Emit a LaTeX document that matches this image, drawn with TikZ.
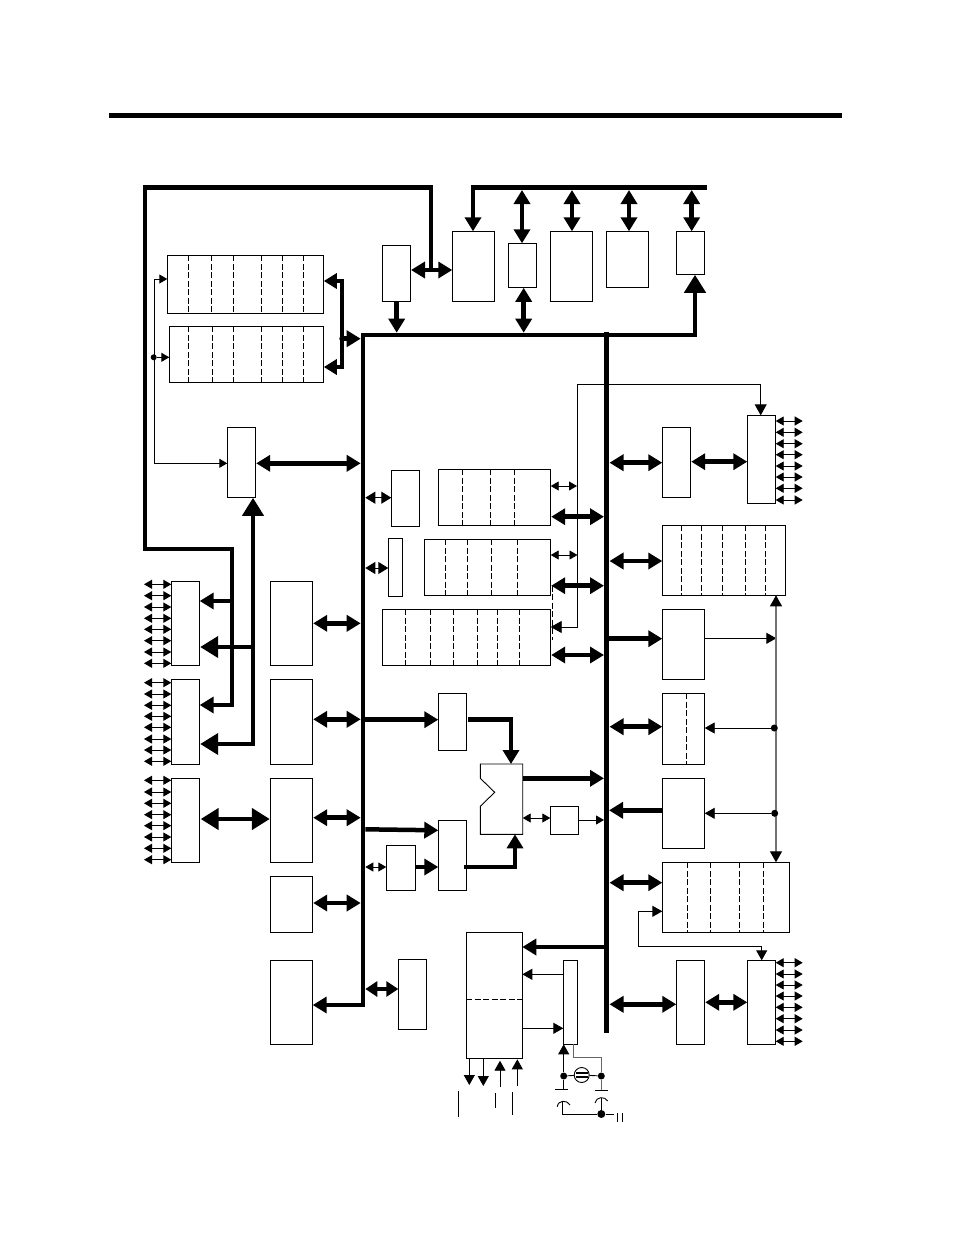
\documentclass[tikz,border=0pt]{standalone}
\usetikzlibrary{arrows.meta}
\tikzset{
  bx/.style={draw=black,line width=0.9pt,inner sep=0pt,outer sep=0pt,rectangle},
  hid/.style={inner sep=0pt,outer sep=0pt,rectangle},
  busbar/.style={fill=black,draw=none,inner sep=0pt,outer sep=0pt,rectangle},
  dsh/.style={line width=0.8pt,dash pattern=on 6pt off 2.5pt},
  bb/.style={line width=4.5pt,{Triangle[length=14pt,width=16pt]}-{Triangle[length=14pt,width=16pt]},shorten <=0.5pt},
  bt/.style={line width=4.5pt,-{Triangle[length=14pt,width=16pt]}},
  bbb/.style={line width=4.5pt,{Triangle[length=18pt,width=21pt]}-{Triangle[length=18pt,width=21pt]},shorten <=1pt,shorten >=0.5pt},
  tbig/.style={line width=4.5pt,-{Triangle[length=18pt,width=21pt]},shorten >=0.5pt},
  mb/.style={line width=1pt,{Triangle[length=10pt,width=12pt]}-{Triangle[length=10pt,width=12pt]}},
  sm/.style={line width=0.9pt,{Triangle[length=8pt,width=9pt]}-{Triangle[length=8pt,width=9pt]}},
  tn/.style={line width=0.9pt,-{Triangle[length=10pt,width=11pt]}},
  ts/.style={line width=0.9pt,-{Triangle[length=8pt,width=9pt]}},
  thinl/.style={line width=0.9pt},
  dot/.style={circle,fill=black,inner sep=0pt,minimum size=7pt},
}
\newcommand\bx[5]{\node[bx,minimum width={(#4-#2)*1pt},minimum height={(#5-#3)*1pt}] (#1) at ({(#2+#4)/2},{(#3+#5)/2}) {};}
\newcommand\hd[5]{\node[hid,minimum width={(#4-#2)*1pt},minimum height={(#5-#3)*1pt}] (#1) at ({(#2+#4)/2},{(#3+#5)/2}) {};}
\newcommand\bus[5]{\node[busbar,minimum width={(#4-#2)*1pt},minimum height={(#5-#3)*1pt}] (#1) at ({(#2+#4)/2},{(#3+#5)/2}) {};}
% horizontal connector: style, from, to, y
\newcommand\hl[4]{\draw[#1] (#2 |- 0,#4) -- (#3 |- 0,#4);}
% vertical connector: style, from, to, x
\newcommand\vl[4]{\draw[#1] (#4,0 |- #2) -- (#4,0 |- #3);}
% dashed partitions: node, list of x
\newcommand\vdsh[2]{\foreach \xx in {#2} {\draw[dsh] (\xx,0 |- #1.north) -- (\xx,0 |- #1.south);}}
\newcommand\pinsL[2]{\foreach \yy in {#2} {\draw[sm] (#1.west |- 0,\yy) -- ++(-27.3,0);}}
\newcommand\pinsR[2]{\foreach \yy in {#2} {\draw[sm] (#1.east |- 0,\yy) -- ++(27,0);}}
\begin{document}
\begin{tikzpicture}[x=1pt,y=-1pt]
\useasboundingbox (0,0) rectangle (954,1235);
% rule
\bus{rule}{109}{113}{842}{118}
% buses
\bus{busT}{471}{185}{707}{189.5}
\bus{busL}{360.7}{333}{365.3}{1007}
\bus{busA}{361}{332.7}{697}{337.3}
\bus{busR}{604}{332}{609}{1032.7}
% upper row
\bx{C}{382.3}{245.3}{410.5}{301.3}
\bx{E}{452.3}{231.3}{494.7}{301.3}
\bx{F}{508.3}{243.3}{536.7}{287.3}
\bx{G}{550.3}{231.3}{592.3}{301.3}
\bx{H}{606.3}{231.3}{648.3}{287.3}
\bx{I}{676.3}{231.3}{704.7}{274.3}
% memories
\bx{memA}{167.3}{255.3}{323.3}{313.3}
\vdsh{memA}{188.3,211.3,233.3,261.3,282.7,303.3}
\bx{memB}{169.3}{326.3}{323.3}{382.3}
\vdsh{memB}{188.3,212.3,233.3,261.3,282.7,303.3}
\bx{D}{227.3}{427.3}{255.7}{497.3}
% left ports
\bx{Pa}{171.3}{581.3}{199.7}{665.3}
\bx{Pb}{171.3}{679.3}{199.7}{764.3}
\bx{Pc}{171.3}{778.3}{199.7}{862.3}
\bx{Qa}{270.3}{581.3}{312.7}{665.3}
\bx{Qb}{270.3}{679.3}{312.7}{764.3}
\bx{Qc}{270.3}{778.3}{312.7}{862.3}
\bx{Qd}{270.3}{876.3}{312.7}{932.3}
\bx{Qe}{270.3}{960.3}{312.7}{1044.3}
\bx{Z}{398.3}{959.3}{426.3}{1029.3}
\pinsL{Pa}{584.3,595.7,607,618.3,629.3,640.7,652,663.3}
\pinsL{Pb}{682.7,694,705.3,716.3,727.3,739,750,761.3}
\pinsL{Pc}{780.3,792,803.3,814.7,825.7,837,848.3,859.7}
% centre
\bx{N}{391.3}{470.3}{419.7}{526.3}
\bx{Ra}{438.3}{469.3}{550.7}{525.3}
\vdsh{Ra}{462.3,490.3,514.3}
\bx{O}{388.3}{538.3}{402.7}{596.3}
\bx{Rb}{424.3}{539.3}{550.7}{595.3}
\vdsh{Rb}{445.3,467.3,491.3,517.3}
\bx{Rc}{382.3}{609.3}{550.7}{665.3}
\vdsh{Rc}{405.3,430.3,453.3,477.3,497.3,519.3}
\bx{J}{438.3}{693.3}{466.7}{750.7}
\bx{K}{438.3}{820.3}{466.7}{890.3}
\bx{L}{386.3}{845.3}{415.7}{890.3}
\hd{alu}{480.3}{764}{522.7}{834.3}
\draw[line width=0.9pt] (alu.north west) -- (alu.north east) -- (alu.south east) -- (alu.south west) -- (480.3,806.3) -- (494.7,792.3) -- (480.3,778.3) -- cycle;
\bx{M}{550.3}{806.3}{578.7}{834.3}
\bx{X}{466.3}{932.3}{522.3}{1058.3}
\draw[dsh] (X.west |- 0,999.3) -- (X.east |- 0,999.3);
\bx{Clk}{563.3}{960.3}{577.3}{1044.3}
% right
\bx{Qr}{662.3}{427.3}{690.7}{497.3}
\bx{Pr}{747.3}{415.3}{775.7}{503.3}
\pinsR{Pr}{421,432.3,443.7,454.7,466,477,488.3,500}
\bx{Rd}{662.3}{525.3}{785.7}{595.3}
\vdsh{Rd}{681.3,701.7,722.3,745.3,765.3}
\bx{S}{662.3}{609.3}{704.3}{679.3}
\bx{T}{662.3}{693.3}{704.7}{764.3}
\vdsh{T}{686.3}
\bx{U}{662.3}{778.3}{704.7}{848.3}
\bx{Re}{662.3}{862.3}{789.7}{932.3}
\vdsh{Re}{687.3,710.3,739.3,763.3}
\bx{W}{676.3}{960.3}{704.7}{1044.3}
\bx{Ps}{747.3}{960.3}{775.7}{1044.3}
\pinsR{Ps}{962.7,974,985,996,1007.3,1018.7,1030,1041.3}
% upper connectors
\vl{bt}{busT.south}{E.north}{473}
\vl{bb}{busT.south}{F.north}{522}
\vl{bb}{busT.south}{G.north}{572}
\vl{bb}{busT.south}{H.north}{629}
\vl{bb}{busT.south}{I.north}{691.7}
\vl{bb}{F.south}{busA.north}{523.7}
\vl{bt}{C.south}{busA.north}{396.7}
\hl{bb}{C.east}{E.west}{270}
\coordinate (ce) at (431,270);
\draw[bt,line join=miter] (ce) -- (431,187.5) -- (145,187.5) -- (145,549) -- (232,549) -- (232,705) -- (Pb.east |- 0,705);
\draw[tbig] (695,0 |- busA.east) -- (695,0 |- I.south);
% memory connectors
\coordinate (mj) at (342.3,338.7);
\draw[line width=4.2pt,line join=miter,-{Triangle[length=13pt,width=15pt]},shorten >=0.5pt] (342.3,281) -- (memA.east |- 0,281);
\draw[line width=4.2pt,line join=miter,-{Triangle[length=13pt,width=15pt]},shorten >=0.5pt] (342.3,367) -- (memB.east |- 0,367);
\draw[line width=4.2pt] (342.3,279) -- (342.3,369);
\draw[bt] (mj) -- (busL.west |- mj);
\node[dot,minimum size=6pt] (mjd) at (mj) {};
\hl{bb}{D.east}{busL.west}{463.3}
\draw[ts] (154.3,463.3) -- (D.west |- 0,463.3);
\draw[thinl] (154.3,463.3) -- (154.3,279);
\draw[ts] (154.3,279) -- (memA.west |- 0,279);
\node[dot,minimum size=6pt] (thd) at (153.7,357.3) {};
\draw[ts] (thd) -- (memB.west |- thd);
% left connectors
\draw[bt,line width=4pt] (232,601) -- (Pa.east |- 0,601);
\draw[tbig,line width=4pt] (253,647) -- (Pa.east |- 0,647);
\draw[tbig,line width=4pt,line join=miter] (253,746) -- (253,0 |- D.south);
\draw[tbig,line width=4pt] (253,744) -- (Pb.east |- 0,744);
\hl{bbb}{Pc.east}{Qc.west}{819}
\hl{bb}{Qa.east}{busL.west}{623.3}
\hl{bb}{Qb.east}{busL.west}{719.3}
\hl{bb}{Qc.east}{busL.west}{817.7}
\hl{bb}{Qd.east}{busL.west}{903}
\hl{bt}{busL.center}{Qe.east}{1005}
\draw[line width=4pt,{Triangle[length=12pt,width=15pt]}-{Triangle[length=12pt,width=15pt]}] (busL.east |- 0,989) -- (Z.west |- 0,989);
% centre connectors
\hl{mb}{busL.east}{N.west}{497.7}
\hl{mb}{busL.east}{O.west}{568}
\hl{sm}{Ra.east}{577,0}{486}
\hl{bb}{Ra.east}{busR.west}{516.7}
\hl{sm}{Rb.east}{577.5,0}{555}
\hl{bb}{Rb.east}{busR.west}{585.7}
\hl{bb}{Rc.east}{busR.west}{655}
\draw[dsh] (552.3,585.7) -- (552.3,640);
\draw[thinl,-{Triangle[length=11pt,width=12pt]}] (760.7,384) -- (760.7,0 |- Pr.north);
\draw[thinl,-{Triangle[length=11pt,width=12pt]}] (760.7,384) -- (577.3,384) -- (577.3,627) -- (Rc.east |- 0,627);
\hl{bt}{busL.east}{J.west}{719.7}
\draw[bt,line join=miter] (468,719.7) -- (511,719.7) -- (511,0 |- alu.north);
\hl{bt}{alu.east}{busR.west}{778.3}
\hl{sm}{alu.east}{M.west}{818}
\hl{ts}{M.east}{busR.west}{820}
\draw[bt] (busL.east |- 0,829.3) -- (K.west |- 0,830.3);
\hl{sm}{busL.east}{L.west}{867}
\hl{bt}{L.east}{K.west}{867}
\draw[bt,line width=4pt,line join=miter] (464,867) -- (515,867) -- (515,0 |- alu.south);
% right connectors
\hl{bb}{busR.east}{Qr.west}{462.7}
\hl{bb}{Qr.east}{Pr.west}{461.7}
\hl{bb}{busR.east}{Rd.west}{561}
\hl{bt}{busR.center}{S.west}{638.7}
\draw[tn] (S.east |- 0,638.3) -- (776.3,638.3);
\draw[line width=1.2pt,draw=black!55,{Triangle[length=11pt,width=12pt,color=black]}-{Triangle[length=11pt,width=12pt,color=black]}] (776,0 |- Rd.south) -- (776,0 |- Re.north);
\hl{bb}{busR.east}{T.west}{726.7}
\node[dot] (dta) at (774.3,728) {};
\draw[tn] (dta) -- (T.east |- dta);
\hl{bt}{U.west}{busR.east}{810.3}
\node[dot] (dtb) at (774.7,813.3) {};
\draw[tn] (dtb) -- (U.east |- dtb);
\hl{bb}{busR.east}{Re.west}{882.7}
\draw[thinl,-{Triangle[length=10pt,width=11pt]}] (761.7,946.3) -- (638.3,946.3) -- (638.3,911.3) -- (Re.west |- 0,911.3);
\draw[thinl,-{Triangle[length=10pt,width=11pt]}] (761.7,946.3) -- (761.7,0 |- Ps.north);
\hl{bb}{busR.east}{W.west}{1004.3}
\hl{bb}{W.east}{Ps.west}{1002.3}
% bottom block
\hl{bt}{busR.west}{X.east}{947}
\hl{tn}{Clk.west}{X.east}{974.3}
\hl{tn}{X.east}{Clk.west}{1028.3}
\draw[tn] (469.3,0 |- X.south) -- (469.3,1085);
\draw[tn] (483.3,0 |- X.south) -- (483.3,1086);
\draw[tn] (500,1086.7) -- (500,1060.7);
\draw[tn] (517.3,1085.7) -- (517.3,1059.3);
\coordinate (ba) at (458.3,1091); \coordinate (bb) at (458.3,1116.7);
\coordinate (bc) at (495.3,1093); \coordinate (bd) at (495.3,1107.7);
\coordinate (be) at (512.3,1092); \coordinate (bf) at (512.3,1114.7);
\draw[thinl] (ba) -- (bb);
\draw[thinl] (bc) -- (bd);
\draw[thinl] (be) -- (bf);
% oscillator
\node[dot] (oa) at (563.7,1076) {};
\node[dot] (ob) at (601.3,1076) {};
\node[circle,draw=black,line width=0.9pt,fill=white,inner sep=0pt,minimum size=15pt] (xt) at (581.7,1075) {};
\draw[line width=2pt] (576,1073) -- (587.5,1073) (576,1076.7) -- (587.5,1076.7);
\draw[thinl] (oa) -- (xt);
\draw[thinl] (xt) -- (ob);
\draw[tn] (oa) -- (oa |- Clk.south);
\draw[thinl,draw=black!60] (573.3,0 |- Clk.south) -- (573.3,1057.7) -| (ob);
\draw[thinl] (oa) -- (563.7,1089.3);
\draw[thinl] (555,1089.3) -- (567.7,1089.3);
\draw[thinl,draw=black!60] (ob) -- (601.3,1090);
\draw[thinl] (595,1090) -- (608.3,1090);
\node[dot,minimum size=8pt] (oc) at (601.3,1114) {};
\draw[thinl] (557.3,1106.7) .. controls (558,1100) and (567,1099.5) .. (570,1105);
\draw[thinl] (595,1103) .. controls (596,1096.5) and (605,1096) .. (607.7,1101);
\draw[thinl] (562.3,1101) -- (562.3,1114) -- (oc);
\draw[thinl] (oc) -- (601.3,1098);
\draw[thinl] (oc) -- (614,1114);
\coordinate (ia) at (617.7,1113); \coordinate (ib) at (617.7,1121.7);
\coordinate (ic) at (622,1113); \coordinate (id) at (622,1121.7);
\draw[thinl] (ia) -- (ib);
\draw[thinl] (ic) -- (id);
\end{tikzpicture}
\end{document}
